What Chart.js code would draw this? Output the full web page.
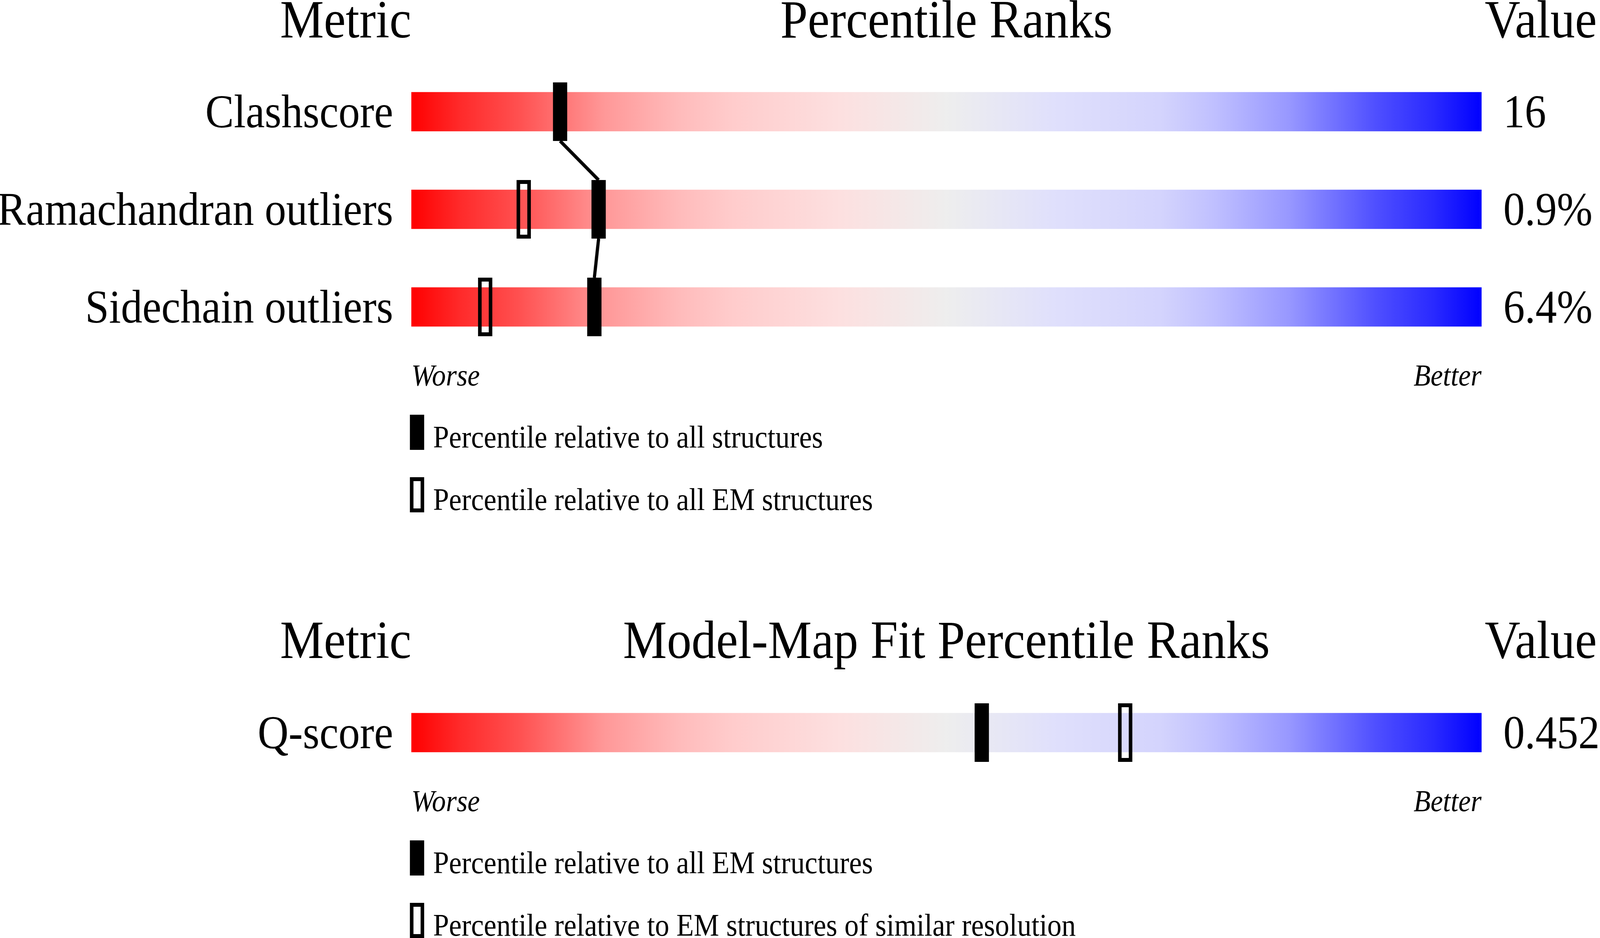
<!DOCTYPE html>
<html>
<head>
<meta charset="utf-8">
<script src="https://cdn.jsdelivr.net/npm/chart.js@4.4.0/dist/chart.umd.min.js"></script>
<style>
html, body { margin: 0; padding: 0; background: #fff; overflow: hidden; }
#page { position: absolute; left: 0; top: 0; width: 4485px; height: 2402px; overflow: hidden; background: #fff;
        transform-origin: 0 0; font-family: "Liberation Serif", serif; color: #000; }
canvas { position: absolute; left: 0; }
#chart1 { top: 0; }
#chart2 { top: 1600px; }
.txt { position: absolute; white-space: nowrap; font-family: "Liberation Serif", serif; }
.sw { position: absolute; left: 1149px; width: 40px; height: 90px; box-sizing: border-box; }
.sw.full { background: #000; }
.sw.open { border: 10px solid #000; }
</style>
</head>
<body>
<div id="page">
<canvas id="chart1" width="4485" height="1000"></canvas>
<canvas id="chart2" width="4485" height="500"></canvas>
</div>
<script>
'use strict';

// geometry panel 1
var metrics1 = ['Clashscore', 'Ramachandran outliers', 'Sidechain outliers'];
var values1 = ['16', '0.9%', '6.4%'];
var pctAll1 = [13.9, 17.5, 17.1];      // filled: relative to all structures
var pctEM1 = [null, 10.5, 6.9];        // open: relative to all EM structures

// model-map fit panel
var metrics2 = ['Q-score'];
var values2 = ['0.452'];
var pctEM2 = [53.3];                   // filled: relative to all EM structures
var pctRes2 = [66.7];                  // open: EM structures of similar resolution

var scaleMax = 100;

// the drawing is laid out at 4485x2402, fit it to the real viewport
var page = document.getElementById('page');
page.style.transform = 'scale(' + (window.innerWidth / 4485) + ',' + (window.innerHeight / 2402) + ')';

Chart.defaults.font.family = '"Liberation Serif", serif';
Chart.defaults.color = '#000';

// red -> grey -> blue slider
var stops = [
    [0, '#ff0000'], [0.045, '#ff2a2a'], [0.1, '#ff5050'], [0.18, '#ff9898'],
    [0.25, '#ffbbbb'], [0.3, '#ffcccc'], [0.4, '#fde0e0'], [0.5, '#eeeeee'],
    [0.6, '#e0e0fc'], [0.7, '#d4d4fd'], [0.75, '#c0c0ff'], [0.82, '#9898ff'],
    [0.9, '#5050ff'], [0.955, '#2a2aff'], [1, '#0000ff']
];

function sliderFill(ctx) {
    var area = ctx.chart.chartArea;
    if (!area) return '#eeeeee';
    var g = ctx.chart.ctx.createLinearGradient(area.left, 0, area.right, 0);
    stops.forEach(function (s) { g.addColorStop(s[0], s[1]); });
    return g;
}

var markW = 40, markH = 150;
function marker(filled) {
    var c = document.createElement('canvas');
    c.width = markW;
    c.height = markH;
    var g = c.getContext('2d');
    g.fillStyle = '#000';
    g.strokeStyle = '#000';
    if (filled) {
        g.fillRect(0, 0, markW, markH);
    } else {
        g.lineWidth = 10;
        g.strokeRect(5, 5, markW - 10, markH - 10);
    }
    return c;
}
var fullMark = marker(true), openMark = marker(false);

function fixWidth(w) {
    return function (scale) {
        scale.width = w;
        scale.paddingTop = 0;
        scale.paddingBottom = 0;
    };
}

function rowAxis(pos, pad, w, labels) {
    var ax = {
        type: 'category',
        position: pos,
        offset: true,
        grid: { display: false, drawTicks: false },
        border: { display: false },
        ticks: { font: { size: 120 }, color: '#000', padding: pad, labelOffset: 8 },
        afterFit: fixWidth(w)
    };
    if (labels) ax.labels = labels;
    return ax;
}

function points(metrics, pct) {
    return metrics.map(function (m, i) { return { x: pct[i], y: m }; });
}

function panel(id, metrics, values, pctFull, pctOpen, padTop, padBottom, plugins) {
    return new Chart(document.getElementById(id), {
        type: 'bar',
        data: {
            labels: metrics,
            datasets: [{
                type: 'scatter',
                data: points(metrics, pctFull),
                pointStyle: fullMark,
                pointRadius: 10,
                pointHoverRadius: 10,
                order: 0
            }, {
                type: 'scatter',
                data: points(metrics, pctOpen),
                pointStyle: openMark,
                pointRadius: 10,
                pointHoverRadius: 10,
                order: 1
            }, {
                type: 'bar',
                data: metrics.map(function () { return scaleMax; }),
                backgroundColor: sliderFill,
                borderWidth: 0,
                barThickness: 100,
                order: 3
            }]
        },
        options: {
            indexAxis: 'y',
            responsive: false,
            animation: false,
            devicePixelRatio: 1,
            events: [],
            layout: { padding: { top: padTop, bottom: padBottom, left: 0, right: 0 } },
            plugins: { legend: { display: false }, tooltip: { enabled: false } },
            scales: {
                x: { type: 'linear', min: 0, max: scaleMax, display: false },
                y: rowAxis('left', 51, 1153),
                y2: rowAxis('right', 61, 332, values)
            }
        },
        plugins: plugins || []
    });
}

// line joining the filled markers
var linkPlugin = {
    id: 'link',
    afterDatasetsDraw: function (chart) {
        var xs = chart.scales.x, ys = chart.scales.y, c = chart.ctx;
        c.save();
        c.strokeStyle = '#000';
        c.lineWidth = 9;
        for (var i = 0; i < pctAll1.length - 1; i++) {
            c.beginPath();
            c.moveTo(xs.getPixelForValue(pctAll1[i]), ys.getPixelForValue(i) + markH / 2);
            c.lineTo(xs.getPixelForValue(pctAll1[i + 1]), ys.getPixelForValue(i + 1) - markH / 2);
            c.stroke();
        }
        c.restore();
    }
};

// box 1
panel('chart1', metrics1, values1, pctAll1, pctEM1, 161, 89, [linkPlugin]);

// box 2
panel('chart2', metrics2, values2, pctEM2, pctRes2, 151, 99);

/* texts placed by baseline */
function addText(str, x, base, size, align, italic) {
    var d = document.createElement('div');
    d.className = 'txt';
    d.textContent = str;
    d.style.fontSize = size + 'px';
    d.style.lineHeight = size + 'px';
    d.style.top = (base - 0.8375 * size) + 'px';
    if (italic) d.style.fontStyle = 'italic';
    if (align === 'right') {
        d.style.right = (4485 - x) + 'px';
    } else if (align === 'center') {
        d.style.left = (x - 2000) + 'px';
        d.style.width = '4000px';
        d.style.textAlign = 'center';
    } else {
        d.style.left = x + 'px';
    }
    page.appendChild(d);
}

function addSwatch(kind, top) {
    var s = document.createElement('div');
    s.className = 'sw ' + kind;
    s.style.top = top + 'px';
    page.appendChild(s);
}

function frame(title, headBase, worseBase, legendTexts) {
    addText('Metric', 1153, headBase, 138, 'right');
    addText(title, 2653, headBase, 138, 'center');
    addText('Value', 4162, headBase, 138, 'left');
    addText('Worse', 1153, worseBase, 78, 'left', true);
    addText('Better', 4153, worseBase, 78, 'right', true);
    addSwatch('full', worseBase + 75);
    addText(legendTexts[0], 1214, worseBase + 159, 80, 'left');
    addSwatch('open', worseBase + 235);
    addText(legendTexts[1], 1214, worseBase + 319, 80, 'left');
}

frame('Percentile Ranks', 97, 987,
    ['Percentile relative to all structures', 'Percentile relative to all EM structures']);
frame('Model-Map Fit Percentile Ranks', 1686, 2077,
    ['Percentile relative to all EM structures', 'Percentile relative to EM structures of similar resolution']);
</script>
</body>
</html>
